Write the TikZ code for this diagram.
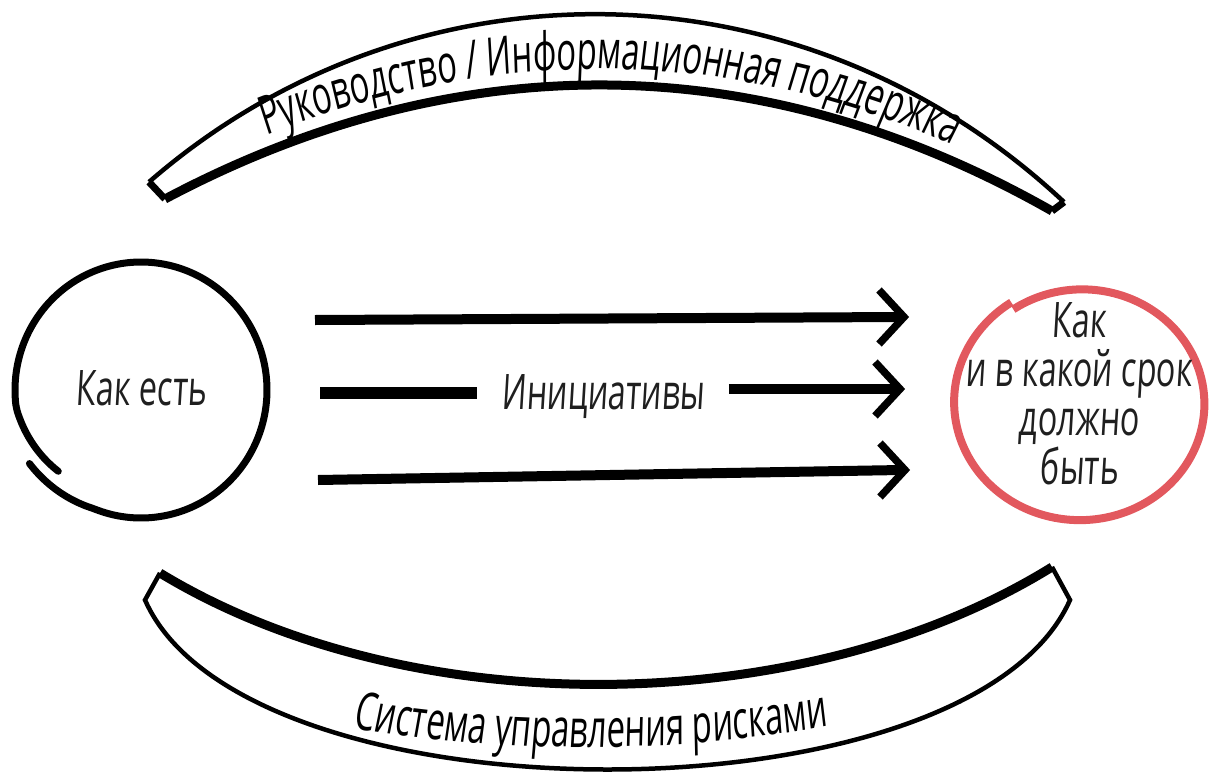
\documentclass[tikz,border=0pt]{standalone}
\usepackage{fontspec}
\setmainfont{Open Sans}[FakeStretch=0.66,FakeSlant=0.06]
\newfontfamily\bandfamily{Open Sans}[FakeStretch=0.62,FakeSlant=0.06]
\usetikzlibrary{decorations.text}
\definecolor{goalred}{RGB}{226,88,94}
\newcommand\handfont{\fontsize{49}{49}\selectfont}
\newcommand\bandfont{\bandfamily\fontsize{53}{53}\selectfont}
\begin{document}
\begin{tikzpicture}[x=1pt,y=-1pt,
  thinband/.style={line width=4.5pt},
  thickband/.style={line width=9pt},
  bandend/.style={line width=7pt},
  shaft/.style={line width=10pt},
  chevron/.style={line width=7.5pt, line join=miter},
  lbl/.style={font=\handfont, inner sep=0pt, text=black!88}]
\useasboundingbox (0,0) rectangle (1211,782);

% upper band: leadership / information support
\coordinate (tlo) at (149,182); \coordinate (tro) at (1064,202);
\coordinate (tli) at (165,199); \coordinate (tri) at (1052,211);
\draw[thinband] (tlo) .. controls (410,-45) and (800,-45) .. (tro);
\draw[thickband] (tli) .. controls (455,45) and (760,45) .. (tri);
\draw[bandend] (tlo) -- (tli);
\draw[bandend] (tro) -- (tri);
\path[decorate, decoration={text along path, text align=center,
  text={|\bandfont|Руководство / Информационная поддержка}}]
  (165,183) .. controls (455,29) and (760,29) .. (1052,195);

% lower band: risk management
\coordinate (blt) at (160,573); \coordinate (blo) at (145,600);
\coordinate (brt) at (1052,567); \coordinate (bro) at (1070,600);
\draw[thinband, line join=miter] (blt) -- (blo) .. controls (245,826) and (970,826) .. (bro) -- (brt);
\draw[thickband] (blt) .. controls (410,725) and (805,720) .. (brt);
\path[decorate, decoration={text along path, text align=center,
  text={|\bandfont|Система управления рисками}}]
  (250,706) .. controls (450,762) and (740,762) .. (930,700);

% current state: one stroke, starting outside at lower left and curling in at its end
\draw[line width=7pt, line cap=round] plot[smooth, samples=120, domain=0:371, variable=\s]
  ({141+(126+7*max(0,1-\s/35)-11*max(0,(\s-335)/36))*cos(147-\s)},
   {390+(128+7*max(0,1-\s/35)-11*max(0,(\s-335)/36))*sin(147-\s)});
\node[lbl, anchor=base] (asis) at (141,405) {Как есть};

% target state
\draw[goalred, line width=8pt] plot[smooth, samples=100, domain=236:597, variable=\t]
  ({1081+(121+7*(\t-236)/361)*cos(\t)}, {403+(113+7*(\t-236)/361)*sin(\t)});
\node[lbl, align=center] (tobe) at (1079,394) {Как\\и в какой срок\\должно\\быть};

% initiatives
\coordinate (a1s) at (315,320); \coordinate (a1e) at (904,317);
\draw[shaft] (a1s) -- ([xshift=-4pt]a1e);
\draw[chevron] (a1e) ++(-25,-27) -- (a1e) -- ++(-25,27);

\node[lbl, anchor=base, inner xsep=24pt] (ini) at (603,409) {Инициативы};
\coordinate (a2s) at (320,393); \coordinate (a2e) at (900,389);
\draw[shaft, line width=12pt] (a2s) -- (a2s -| ini.west);
\draw[shaft] (ini.east |- a2e) -- ([xshift=-4pt]a2e);
\draw[chevron] (a2e) ++(-25,-27) -- (a2e) -- ++(-25,27);

\coordinate (a3s) at (318,480); \coordinate (a3e) at (905,470);
\draw[shaft] (a3s) -- ([xshift=-4pt]a3e);
\draw[chevron] (a3e) ++(-25,-27) -- (a3e) -- ++(-25,27);
\end{tikzpicture}
\end{document}
